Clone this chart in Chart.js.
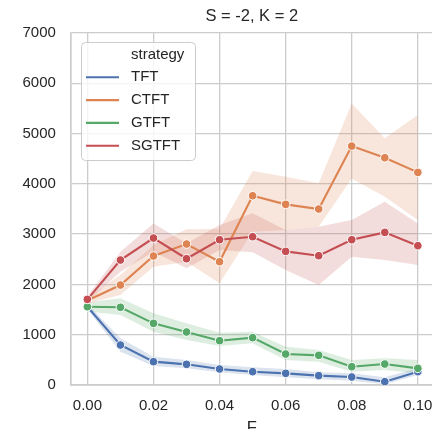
<!DOCTYPE html>
<html>
<head>
<meta charset="utf-8">
<script src="https://cdn.jsdelivr.net/npm/chart.js@4"></script>
<style>
html,body{margin:0;padding:0;background:#fff;overflow:hidden;}
#wrap{width:432px;height:429px;overflow:hidden;}
</style>
</head>
<body>
<div id="wrap"><canvas id="c" width="438" height="429"></canvas></div>
<script>
const titleText = 'S = -2, K = 2';
const xTitle = 'F';
const legendTitle = 'strategy';
const xValues = [0.00, 0.01, 0.02, 0.03, 0.04, 0.05, 0.06, 0.07, 0.08, 0.09, 0.10];
const xTicks = [0.00, 0.02, 0.04, 0.06, 0.08, 0.10];
const yTicks = [0, 1000, 2000, 3000, 4000, 5000, 6000, 7000];
const strategies = ['TFT', 'CTFT', 'GTFT', 'SGTFT'];
const colors = ['#4C72B0', '#DD8452', '#55A868', '#C44E52'];

const tftMean = [1557, 795, 464, 411, 318, 265, 232, 186, 159, 66, 265];
const tftLow  = [1505, 662, 378, 332, 252, 199, 153, 113, 86, 14, 199];
const tftHigh = [1610, 928, 563, 497, 398, 351, 318, 252, 232, 153, 332];

const ctftMean = [1680, 1988, 2565, 2803, 2452, 3764, 3592, 3499, 4751, 4519, 4228];
const ctftLow  = [1620, 1789, 2352, 2451, 2022, 3048, 3081, 3148, 4108, 3744, 3280];
const ctftHigh = [1740, 2187, 2783, 3095, 3100, 4254, 4141, 4010, 5600, 4905, 5368];

const gtftMean = [1557, 1545, 1226, 1054, 881, 941, 616, 590, 364, 417, 331];
const gtftLow  = [1460, 1392, 1060, 895, 775, 829, 497, 464, 265, 298, 232];
const gtftHigh = [1645, 1723, 1425, 1227, 1040, 1060, 762, 696, 497, 530, 497];

const sgtftMean = [1703, 2485, 2922, 2511, 2889, 2949, 2657, 2571, 2889, 3035, 2770];
const sgtftLow  = [1650, 2253, 2650, 2320, 2684, 2640, 2286, 1988, 2551, 2485, 2386];
const sgtftHigh = [1760, 2650, 3214, 2817, 3181, 3413, 3081, 3148, 3280, 3644, 3214];

const means = [tftMean, ctftMean, gtftMean, sgtftMean];
const lows = [tftLow, ctftLow, gtftLow, sgtftLow];
const highs = [tftHigh, ctftHigh, gtftHigh, sgtftHigh];

function pts(arr){ return xValues.map((x,i)=>({x:x, y:arr[i]})); }
function alpha(hex, a){
  const r=parseInt(hex.slice(1,3),16), g=parseInt(hex.slice(3,5),16), b=parseInt(hex.slice(5,7),16);
  return 'rgba('+r+','+g+','+b+','+a+')';
}

const FONT = '"Liberation Sans", Arial, sans-serif';
const TEXT = '#262626';
const GRID = '#cccccc';

const datasets = [];
strategies.forEach((s, i) => {
  datasets.push({
    label: s + '_high', data: pts(highs[i]), borderWidth: 0, pointRadius: 0,
    fill: false, order: 20 + i, tension: 0
  });
  datasets.push({
    label: s + '_low', data: pts(lows[i]), borderWidth: 0, pointRadius: 0,
    fill: '-1', backgroundColor: alpha(colors[i], 0.2), order: 20 + i, tension: 0
  });
});
strategies.forEach((s, i) => {
  datasets.push({
    label: s, data: pts(means[i]), borderColor: colors[i], backgroundColor: colors[i],
    borderWidth: 2.1, pointRadius: 4.3, pointBackgroundColor: colors[i],
    pointBorderColor: '#ffffff', pointBorderWidth: 1, fill: false,
    order: 4 - i, tension: 0
  });
});

const titlePlugin = {
  id: 'plotTitle',
  afterDraw(chart){
    const ctx = chart.ctx, a = chart.chartArea;
    const cx = (a.left + a.right) / 2;
    ctx.save();
    ctx.font = '16.5px ' + FONT;
    ctx.fillStyle = TEXT;
    ctx.textAlign = 'center';
    ctx.textBaseline = 'middle';
    ctx.fillText(titleText, cx, 16);
    ctx.fillText(xTitle, cx, a.bottom + 43);
    ctx.restore();
  }
};

const legendPlugin = {
  id: 'insideLegend',
  afterDraw(chart){
    const ctx = chart.ctx;
    const x0 = 81.5, y0 = 42.5, w = 114, h = 118, r = 4;
    ctx.save();
    ctx.beginPath();
    ctx.moveTo(x0 + r, y0);
    ctx.arcTo(x0 + w, y0, x0 + w, y0 + h, r);
    ctx.arcTo(x0 + w, y0 + h, x0, y0 + h, r);
    ctx.arcTo(x0, y0 + h, x0, y0, r);
    ctx.arcTo(x0, y0, x0 + w, y0, r);
    ctx.closePath();
    ctx.fillStyle = 'rgba(255,255,255,0.8)';
    ctx.fill();
    ctx.strokeStyle = GRID;
    ctx.lineWidth = 1;
    ctx.stroke();
    ctx.font = '15px ' + FONT;
    ctx.fillStyle = TEXT;
    ctx.textAlign = 'left';
    ctx.textBaseline = 'middle';
    const tx = 131, rowH = 22.8, firstY = 54.5;
    ctx.fillText(legendTitle, tx, firstY);
    strategies.forEach((s, i) => {
      const y = firstY + rowH * (i + 1);
      ctx.strokeStyle = colors[i];
      ctx.lineWidth = 2.1;
      ctx.beginPath();
      ctx.moveTo(86, y);
      ctx.lineTo(119, y);
      ctx.stroke();
      ctx.fillStyle = TEXT;
      ctx.fillText(s, tx, y);
    });
    ctx.restore();
  }
};

new Chart(document.getElementById('c'), {
  type: 'line',
  data: { datasets: datasets },
  options: {
    responsive: false,
    animation: false,
    devicePixelRatio: 1,
    layout: { padding: { left: 7.5, right: 0, top: 33, bottom: 2 } },
    plugins: {
      legend: { display: false },
      title: { display: false },
      tooltip: { enabled: false },
      filler: { drawTime: 'beforeDatasetsDraw' }
    },
    scales: {
      x: {
        type: 'linear', min: -0.005, max: 0.1045,
        afterBuildTicks(axis){ axis.ticks = xTicks.map(v => ({ value: v })); },
        afterFit(axis){ axis.paddingLeft = 0; axis.paddingRight = 0; },
        grid: { color: GRID, lineWidth: 1.3, drawTicks: false },
        border: { color: GRID, width: 1.7 },
        ticks: {
          color: TEXT, font: { family: FONT, size: 15 }, padding: 12,
          maxRotation: 0, autoSkip: false,
          callback: v => Number(v).toFixed(2)
        },
        title: { display: false }
      },
      y: {
        type: 'linear', min: 0, max: 7000,
        afterBuildTicks(axis){ axis.ticks = yTicks.map(v => ({ value: v })); },
        grid: { color: GRID, lineWidth: 1.3, drawTicks: false },
        border: { color: GRID, width: 1.7 },
        ticks: { color: TEXT, font: { family: FONT, size: 15 }, padding: 15, callback: v => String(v) }
      }
    }
  },
  plugins: [titlePlugin, legendPlugin]
});
</script>
</body>
</html>
